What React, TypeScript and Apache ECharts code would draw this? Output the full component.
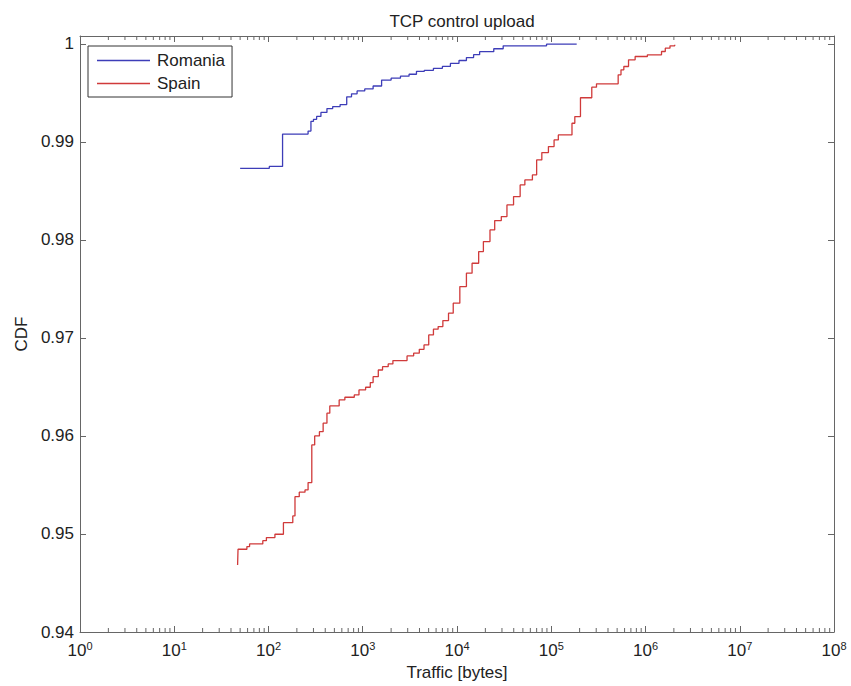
import React, { useEffect, useRef } from "react";
import * as echarts from "echarts";

const chartTitle = "TCP control upload";
const seriesNames = ["Romania", "Spain"];
const xAxisName = "Traffic [bytes]";
const yAxisName = "CDF";
const yTickValues = [0.94, 0.95, 0.96, 0.97, 0.98, 0.99, 1];

const romaniaX = [50, 102, 141, 263, 282, 300, 324, 360, 417, 480, 575, 676, 760, 871, 1050, 1288, 1585, 2000, 2512, 3100, 3715, 4500, 5623, 7000, 8511, 10500, 12589, 15000, 17378, 24547, 30903, 89125, 186209];
const romaniaY = [0.9873, 0.9875, 0.9908, 0.9911, 0.9921, 0.9923, 0.9926, 0.993, 0.9934, 0.9936, 0.9938, 0.9946, 0.9949, 0.9952, 0.9954, 0.9957, 0.9963, 0.9965, 0.9967, 0.9969, 0.9972, 0.9973, 0.9975, 0.9977, 0.998, 0.9983, 0.9986, 0.9989, 0.9992, 0.9995, 0.9998, 0.99997, 0.99997];

const spainX = [47, 47.5, 59, 63, 87, 95, 117, 144, 181, 191, 212, 244, 263, 288, 309, 347, 380, 417, 447, 562, 646, 813, 912, 1072, 1202, 1288, 1462, 1622, 1862, 2089, 2951, 3467, 3981, 4467, 5012, 5623, 6310, 7079, 8128, 9120, 10715, 12589, 14454, 16982, 19055, 22387, 25119, 29512, 33884, 39811, 46774, 52481, 63096, 69984, 79433, 93325, 107152, 118850, 165959, 177828, 204174, 269153, 301995, 512861, 549541, 588844, 660693, 776247, 1047129, 1479108, 1621810, 1819701, 2041738];
const spainY = [0.94684, 0.94844, 0.94871, 0.94898, 0.94932, 0.94963, 0.94997, 0.95115, 0.95184, 0.95381, 0.95426, 0.95449, 0.95524, 0.95908, 0.96, 0.96044, 0.9613, 0.96232, 0.96306, 0.96367, 0.96395, 0.96418, 0.96469, 0.96497, 0.96544, 0.96605, 0.96673, 0.96707, 0.96735, 0.96769, 0.96816, 0.96844, 0.96884, 0.96929, 0.97031, 0.97089, 0.97116, 0.97177, 0.97252, 0.97354, 0.97524, 0.9766, 0.97762, 0.97881, 0.97983, 0.98102, 0.98197, 0.98238, 0.98357, 0.98442, 0.98561, 0.98612, 0.98663, 0.98816, 0.98891, 0.98952, 0.9902, 0.99071, 0.9919, 0.99258, 0.9945, 0.99558, 0.99592, 0.99684, 0.99735, 0.99769, 0.99837, 0.99871, 0.99888, 0.99922, 0.99956, 0.9998, 0.9999];

const decadeExponents = [0, 1, 2, 3, 4, 5, 6, 7];
const minorMultipliers = [2, 3, 4, 5, 6, 7, 8, 9];

const X_MIN = 1;
const X_MAX = 1e8;
const Y_MIN = 0.94;
const Y_MAX = 1.0008;

const FONT = "'Liberation Sans', Arial, sans-serif";
const TEXT = "#222";
const AXIS = "#666";
const BLUE = "#3d3db8";
const RED = "#d03a3a";

export default function App() {
  const ref = useRef<HTMLDivElement>(null);

  useEffect(() => {
    if (!ref.current) return;
    const chart = echarts.init(ref.current, undefined, { renderer: "svg" });

    const minorTicks: number[][] = [];
    decadeExponents.forEach((e) => {
      minorMultipliers.forEach((m) => minorTicks.push([m * Math.pow(10, e), Y_MIN]));
    });

    const romania = romaniaX.map((x, i) => [x, romaniaY[i]]);
    const spain = spainX.map((x, i) => [x, spainY[i]]);

    const xCommon = {
      type: "log" as const,
      logBase: 10,
      min: X_MIN,
      max: X_MAX,
      splitNumber: 8,
      splitLine: { show: false },
      axisLine: { show: true, lineStyle: { color: AXIS, width: 1 } },
      axisTick: { show: true, inside: true, length: 6, lineStyle: { color: AXIS } },
    };
    const yCommon = {
      type: "value" as const,
      min: Y_MIN,
      max: Y_MAX,
      interval: 0.01,
      splitLine: { show: false },
      axisLine: { show: true, lineStyle: { color: AXIS, width: 1 } },
      axisTick: { show: true, inside: true, length: 6, lineStyle: { color: AXIS } },
    };

    chart.setOption({
      animation: false,
      backgroundColor: "#fff",
      title: {
        text: chartTitle,
        left: 457,
        top: 8,
        textAlign: "center",
        textStyle: { fontSize: 17, fontWeight: "normal", color: TEXT, fontFamily: FONT },
      },
      legend: {
        data: [
          { name: seriesNames[0], icon: "rect", itemStyle: { color: BLUE } },
          { name: seriesNames[1], icon: "rect", itemStyle: { color: RED } },
        ],
        orient: "vertical",
        left: 88,
        top: 46,
        itemWidth: 53,
        itemHeight: 1.4,
        itemGap: 6,
        padding: [6, 7, 5, 9],
        borderColor: "#333",
        borderWidth: 1,
        backgroundColor: "#fff",
        textStyle: { fontSize: 17, color: TEXT, fontFamily: FONT, padding: [0, 0, 0, 2] },
      },
      grid: { left: 80, right: 17, top: 36, bottom: 54 },
      xAxis: [
        {
          ...xCommon,
          position: "bottom",
          name: xAxisName,
          nameLocation: "middle",
          nameGap: 32,
          nameTextStyle: { fontSize: 17, color: TEXT, fontFamily: FONT },
          axisLabel: {
            show: true,
            margin: 8,
            formatter: (v: number) => `{b|10}{e|${Math.round(Math.log10(v))}}`,
            rich: {
              b: { fontSize: 17, color: TEXT, fontFamily: FONT },
              e: { fontSize: 11, color: TEXT, fontFamily: FONT, padding: [0, 0, 10, 0] },
            },
          },
        },
        {
          ...xCommon,
          position: "top",
          axisLabel: { show: false },
        },
      ],
      yAxis: [
        {
          ...yCommon,
          position: "left",
          name: yAxisName,
          nameLocation: "middle",
          nameGap: 46,
          nameTextStyle: { fontSize: 17, color: TEXT, fontFamily: FONT },
          axisLabel: {
            show: true,
            margin: 6,
            fontSize: 17,
            color: TEXT,
            fontFamily: FONT,
            formatter: (v: number) => {
              const hit = yTickValues.find((t) => Math.abs(t - v) < 1e-6);
              if (hit === undefined) return "";
              return hit === 1 ? "1" : hit.toFixed(2);
            },
          },
        },
        {
          ...yCommon,
          position: "right",
          axisLabel: { show: false },
        },
      ],
      series: [
        {
          name: seriesNames[0],
          type: "line",
          step: "end",
          data: romania,
          symbol: "none",
          lineStyle: { color: BLUE, width: 1.3 },
          itemStyle: { color: BLUE },
        },
        {
          name: seriesNames[1],
          type: "line",
          step: "end",
          data: spain,
          symbol: "none",
          lineStyle: { color: RED, width: 1.3 },
          itemStyle: { color: RED },
        },
        {
          type: "custom",
          silent: true,
          data: minorTicks,
          encode: { x: 0, y: 1 },
          renderItem: (_params: any, api: any) => {
            const v = api.value(0);
            const bottom = api.coord([v, Y_MIN]);
            const top = api.coord([v, Y_MAX]);
            const style = { stroke: AXIS, lineWidth: 1 };
            return {
              type: "group",
              children: [
                { type: "line", shape: { x1: bottom[0], y1: bottom[1], x2: bottom[0], y2: bottom[1] - 4 }, style },
                { type: "line", shape: { x1: top[0], y1: top[1], x2: top[0], y2: top[1] + 4 }, style },
              ],
            };
          },
        },
      ],
    });

    return () => chart.dispose();
  }, []);

  return (
    <div
      ref={ref}
      style={{ position: "fixed", left: 0, top: 0, width: 851, height: 686, background: "#fff" }}
    />
  );
}
